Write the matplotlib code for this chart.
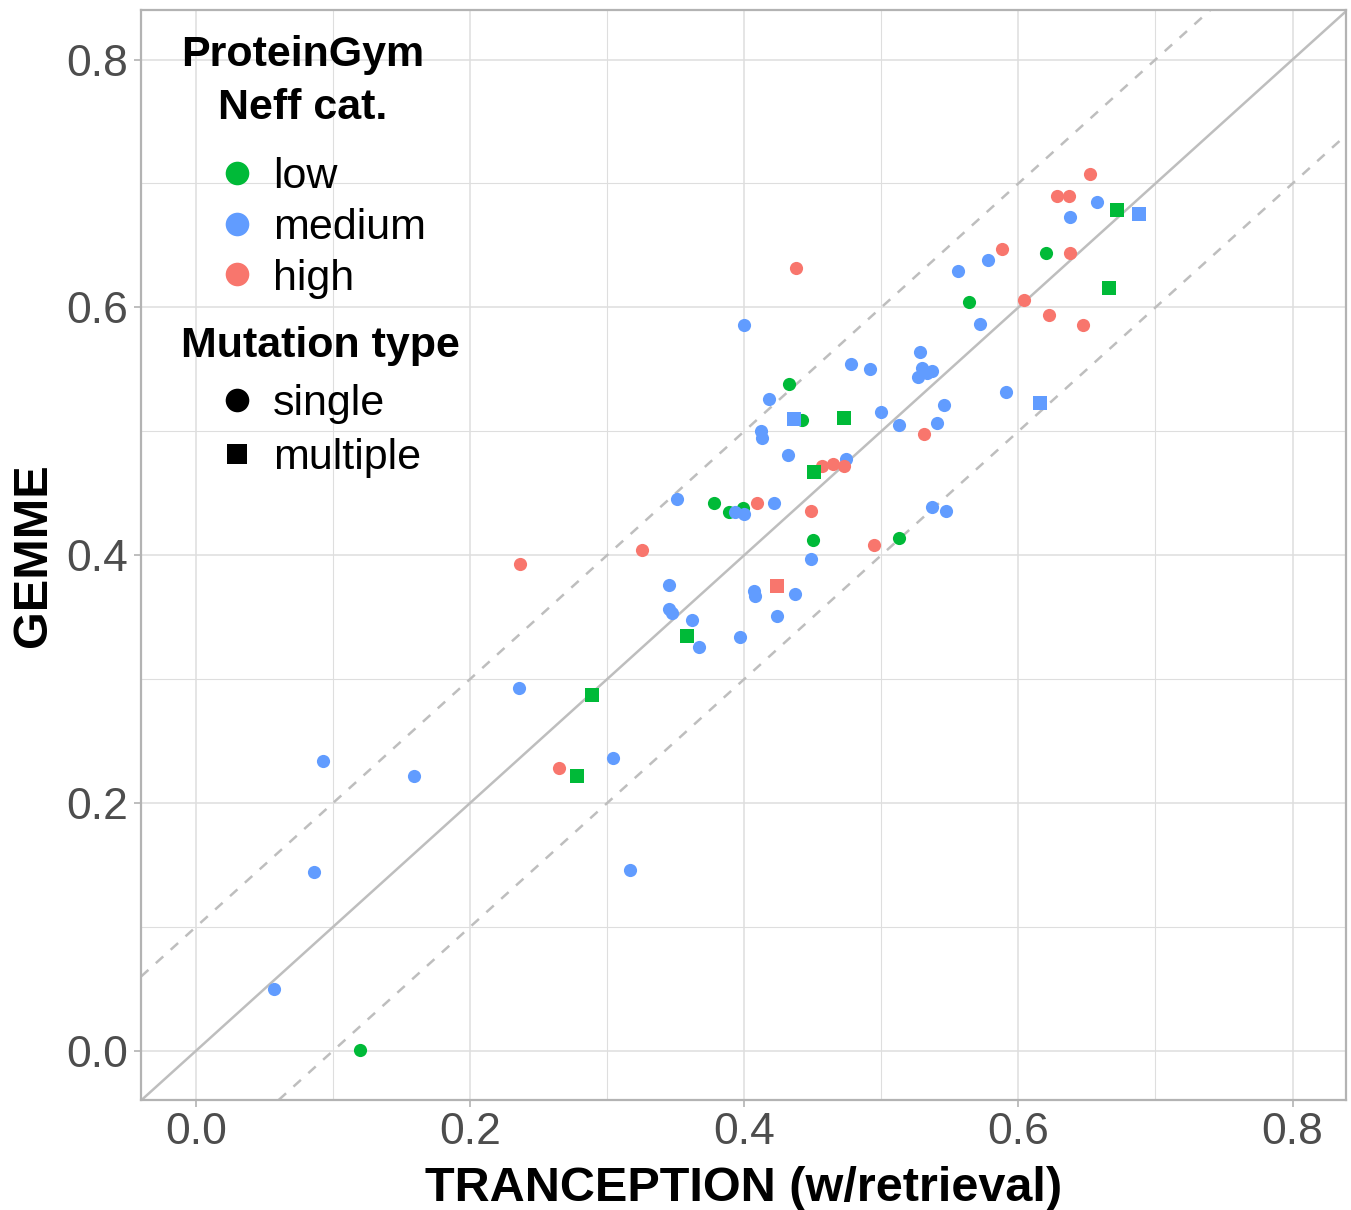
import numpy as np
import matplotlib.pyplot as plt
from matplotlib.lines import Line2D

plt.rcParams['font.family'] = ['Liberation Sans', 'DejaVu Sans']

# TRANCEPTION (w/retrieval) vs GEMME, one point per assay
low_single_x = [0.120, 0.433, 0.442, 0.378, 0.389, 0.399, 0.450, 0.513, 0.564, 0.620]
low_single_y = [0.001, 0.538, 0.509, 0.442, 0.435, 0.438, 0.412, 0.414, 0.604, 0.644]
low_multi_x = [0.289, 0.278, 0.358, 0.451, 0.473, 0.672, 0.666]
low_multi_y = [0.287, 0.222, 0.335, 0.467, 0.511, 0.679, 0.616]

med_single_x = [0.236, 0.093, 0.159, 0.086, 0.057, 0.304, 0.317, 0.351, 0.345, 0.345,
                0.347, 0.362, 0.367, 0.397, 0.407, 0.408, 0.437, 0.424, 0.449, 0.422,
                0.393, 0.400, 0.432, 0.474, 0.537, 0.547, 0.400, 0.418, 0.412, 0.413,
                0.478, 0.492, 0.500, 0.513, 0.556, 0.578, 0.572, 0.528, 0.530, 0.527,
                0.537, 0.533, 0.546, 0.541, 0.591, 0.638, 0.657]
med_single_y = [0.293, 0.234, 0.222, 0.144, 0.050, 0.236, 0.146, 0.445, 0.376, 0.357,
                0.353, 0.348, 0.326, 0.334, 0.371, 0.367, 0.369, 0.351, 0.397, 0.442,
                0.435, 0.433, 0.481, 0.478, 0.439, 0.436, 0.586, 0.526, 0.500, 0.495,
                0.554, 0.550, 0.516, 0.505, 0.629, 0.638, 0.587, 0.564, 0.551, 0.544,
                0.549, 0.547, 0.521, 0.507, 0.532, 0.673, 0.685]
med_multi_x = [0.436, 0.688, 0.616]
med_multi_y = [0.510, 0.675, 0.523]

high_single_x = [0.2365, 0.3255, 0.265, 0.438, 0.409, 0.449, 0.457, 0.465, 0.473, 0.495,
                 0.531, 0.604, 0.622, 0.647, 0.588, 0.638, 0.628, 0.637, 0.652]
high_single_y = [0.393, 0.404, 0.228, 0.632, 0.442, 0.436, 0.472, 0.474, 0.472, 0.408,
                 0.498, 0.606, 0.594, 0.586, 0.647, 0.644, 0.690, 0.690, 0.708]
high_multi_x = [0.424]
high_multi_y = [0.375]

GREEN = "#00BA38"
BLUE = "#619CFF"
RED = "#F8766D"

W, H = 1351, 1210
fig = plt.figure(figsize=(W / 100, H / 100), dpi=100)
ax = fig.add_axes([141 / W, 1 - 1100 / H, 1205 / W, 1090 / H])

# reference lines y = x and y = x +/- 0.1
ax.axline((0, 0), slope=1, color="#BEBEBE", lw=1.8, zorder=1)
ax.axline((0, 0.1), slope=1, color="#BEBEBE", lw=1.8, ls=(0, (4, 4)), zorder=1)
ax.axline((0, -0.1), slope=1, color="#BEBEBE", lw=1.8, ls=(0, (4, 4)), zorder=1)

ax.scatter(low_single_x, low_single_y, s=90, marker="o", color=GREEN, lw=0, zorder=3)
ax.scatter(med_single_x, med_single_y, s=90, marker="o", color=BLUE, lw=0, zorder=3)
ax.scatter(high_single_x, high_single_y, s=90, marker="o", color=RED, lw=0, zorder=3)
ax.scatter(low_multi_x, low_multi_y, s=100, marker="s", color=GREEN, lw=0, zorder=3)
ax.scatter(med_multi_x, med_multi_y, s=100, marker="s", color=BLUE, lw=0, zorder=3)
ax.scatter(high_multi_x, high_multi_y, s=100, marker="s", color=RED, lw=0, zorder=3)

ax.set_xlim(-0.040, 0.839)
ax.set_ylim(-0.0396, 0.840)
ax.set_xticks([0.0, 0.2, 0.4, 0.6, 0.8])
ax.set_yticks([0.0, 0.2, 0.4, 0.6, 0.8])
ax.set_xticks(np.arange(0.1, 0.8, 0.2), minor=True)
ax.set_yticks(np.arange(0.1, 0.8, 0.2), minor=True)
ax.grid(which="major", color="#DEDEDE", lw=1.1)
ax.grid(which="minor", color="#DEDEDE", lw=0.8)
ax.set_axisbelow(True)
for sp in ax.spines.values():
    sp.set_color("#B3B3B3")
    sp.set_linewidth(1.6)
ax.tick_params(which="major", length=5, width=1.2, color="#B3B3B3",
               labelsize=32, labelcolor="#4D4D4D", pad=4)
ax.tick_params(which="minor", length=0)

ax.set_xlabel("TRANCEPTION (w/retrieval)", fontsize=35, fontweight="bold", labelpad=9)
ax.set_ylabel("GEMME", fontsize=35, fontweight="bold", labelpad=8)

# legend titles
fig.text(181 / W, 1 - 81.5 / H, "ProteinGym\nNeff cat.", fontsize=31, fontweight="bold",
         ha="left", va="center", multialignment="center", linespacing=1.42)
fig.text(181 / W, 1 - 346 / H, "Mutation type", fontsize=31, fontweight="bold",
         ha="left", va="center")

neff_handles = [Line2D([], [], ls="", marker="o", ms=17, color=c, mew=0) for c in (GREEN, BLUE, RED)]
leg1 = ax.legend(neff_handles, ["low", "medium", "high"],
                 loc="upper left", bbox_to_anchor=((211 - 141) / 1205, (1100 - 157) / 1090),
                 frameon=False, fontsize=31, handletextpad=0.24, labelspacing=0.25,
                 borderpad=0, borderaxespad=0, handlelength=1.2)
ax.add_artist(leg1)

mut_handles = [Line2D([], [], ls="", marker="o", ms=17, color="black", mew=0),
               Line2D([], [], ls="", marker="s", ms=15, color="black", mew=0)]
ax.legend(mut_handles, ["single", "multiple"],
          loc="upper left", bbox_to_anchor=((211 - 141) / 1205, (1100 - 384.5) / 1090),
          frameon=False, fontsize=31, handletextpad=0.24, labelspacing=0.32,
          borderpad=0, borderaxespad=0, handlelength=1.2)

fig.savefig("out.png", dpi=100)
